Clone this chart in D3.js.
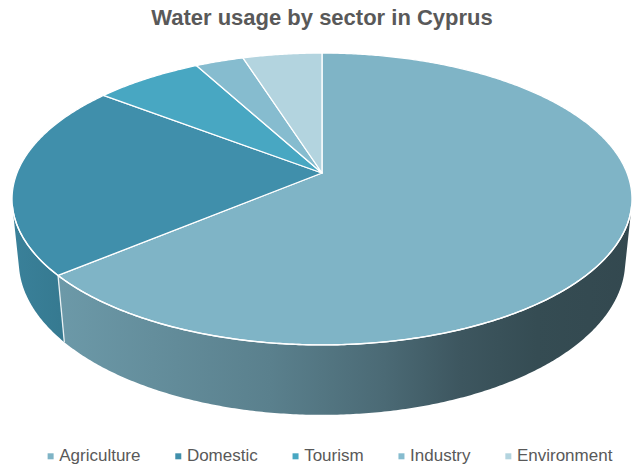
<!DOCTYPE html>
<html><head><meta charset="utf-8">
<script src="https://cdn.jsdelivr.net/npm/d3@7"></script>
<style>body{margin:0;background:#fff}svg{display:block}</style>
</head><body>
<svg id="c" width="633" height="468"></svg>
<script>
const categories = ["Agriculture", "Domestic", "Tourism", "Industry", "Environment"];
const values = [63.9, 21.5, 6.7, 3.0, 4.9];
const colors = ["#7fb4c6", "#408fab", "#48a7c2", "#86bccf", "#b3d4df"];
const title = "Water usage by sector in Cyprus";

const W = 633, H = 468;
const svg = d3.select("#c");
const defs = svg.append("defs");

// 3D perspective projection of a unit-radius pie
const cx = 322, cy = 173, phi = 27.6 * Math.PI / 180, dist = 4.98, focal = 1519, thick = 0.232;
function proj3(X, Y, Z) {
  const ry = Y - dist * Math.sin(phi), rz = Z - dist * Math.cos(phi);
  const depth = -ry * Math.sin(phi) - rz * Math.cos(phi);
  const sy = ry * Math.cos(phi) - rz * Math.sin(phi);
  return [cx + focal * X / depth, cy - focal * sy / depth];
}
function proj(theta, Y) { return proj3(Math.sin(theta), Y, -Math.cos(theta)); }

const pie = d3.pie().sort(null).value(d => d)(values);
const step = Math.PI / 360;

// visible side range
const tv = Math.acos(-1 / (dist * Math.cos(phi)));
const visA = tv, visB = 2 * Math.PI - tv;

const shadeX = [10, 60, 270, 384, 461, 537, 640];
const shadeK = [0.9, 0.85, 0.71, 0.59, 0.48, 0.42, 0.40];
function darken(c, k) { const r = d3.rgb(c); return d3.rgb(r.r * k, r.g * k, r.b * k).formatHex(); }

const gSide = svg.append("g");
pie.forEach((p, i) => {
  const a = Math.max(p.startAngle, visA), b = Math.min(p.endAngle, visB);
  if (b <= a) return;
  const gid = "side" + i;
  const lg = defs.append("linearGradient").attr("id", gid).attr("gradientUnits", "userSpaceOnUse")
    .attr("x1", shadeX[0]).attr("y1", 0).attr("x2", shadeX[shadeX.length - 1]).attr("y2", 0);
  shadeX.forEach((x, k) => lg.append("stop")
    .attr("offset", (x - shadeX[0]) / (shadeX[shadeX.length - 1] - shadeX[0]))
    .attr("stop-color", darken(colors[i], shadeK[k])));
  const n = Math.max(2, Math.ceil((b - a) / step));
  const top = [], bot = [];
  for (let j = 0; j <= n; j++) {
    const t = a + (b - a) * j / n;
    top.push(proj(t, 0)); bot.push(proj(t, -thick));
  }
  const pts = top.concat(bot.reverse());
  gSide.append("path")
    .attr("d", "M" + pts.map(q => q.join(",")).join("L") + "Z")
    .attr("fill", `url(#${gid})`);
});

// slice boundary edges on the side
pie.forEach(p => {
  const t = p.startAngle;
  if (t > visA && t < visB) {
    const a = proj(t, 0), b = proj(t, -thick);
    gSide.append("line").attr("x1", a[0]).attr("y1", a[1]).attr("x2", b[0]).attr("y2", b[1])
      .attr("stroke", "#ffffff").attr("stroke-width", 1.3).attr("stroke-opacity", 0.85);
  }
});

// top face
const center = proj3(0, 0, 0);
const gTop = svg.append("g");
pie.forEach((p, i) => {
  const n = Math.max(2, Math.ceil((p.endAngle - p.startAngle) / step));
  const pts = [center];
  for (let j = 0; j <= n; j++) pts.push(proj(p.startAngle + (p.endAngle - p.startAngle) * j / n, 0));
  gTop.append("path")
    .attr("d", "M" + pts.map(q => q.join(",")).join("L") + "Z")
    .attr("fill", colors[i]).attr("stroke", "#ffffff").attr("stroke-width", 1.3)
    .attr("stroke-linejoin", "round");
});

// white highlight along front top edge
{
  const n = Math.ceil((visB - visA) / step);
  const pts = [];
  for (let j = 0; j <= n; j++) pts.push(proj(visA + (visB - visA) * j / n, 0));
  svg.append("path").attr("d", "M" + pts.map(q => q.join(",")).join("L"))
    .attr("fill", "none").attr("stroke", "#ffffff").attr("stroke-width", 1.4);
}

// title
svg.append("text").attr("x", 322).attr("y", 25).attr("text-anchor", "middle")
  .attr("font-family", "Liberation Sans, Arial, sans-serif").attr("font-weight", "bold")
  .attr("font-size", 22).attr("fill", "#595959").text(title);

// legend
const lgd = svg.append("g").attr("font-family", "Liberation Sans, Arial, sans-serif")
  .attr("font-size", 17).attr("fill", "#595959");
const items = categories.map((c, i) => {
  const g = lgd.append("g");
  g.append("rect").attr("x", 0).attr("y", -7.7).attr("width", 6).attr("height", 6).attr("fill", colors[i]);
  const t = g.append("text").attr("x", 11.6).attr("y", 0).text(c);
  return { g, w: 11.6 + t.node().getComputedTextLength() };
});
const gap = 34.8;
const total = d3.sum(items, d => d.w) + gap * (items.length - 1);
let x0 = 330 - total / 2;
items.forEach(it => { it.g.attr("transform", `translate(${x0},461)`); x0 += it.w + gap; });
</script>
</body></html>
